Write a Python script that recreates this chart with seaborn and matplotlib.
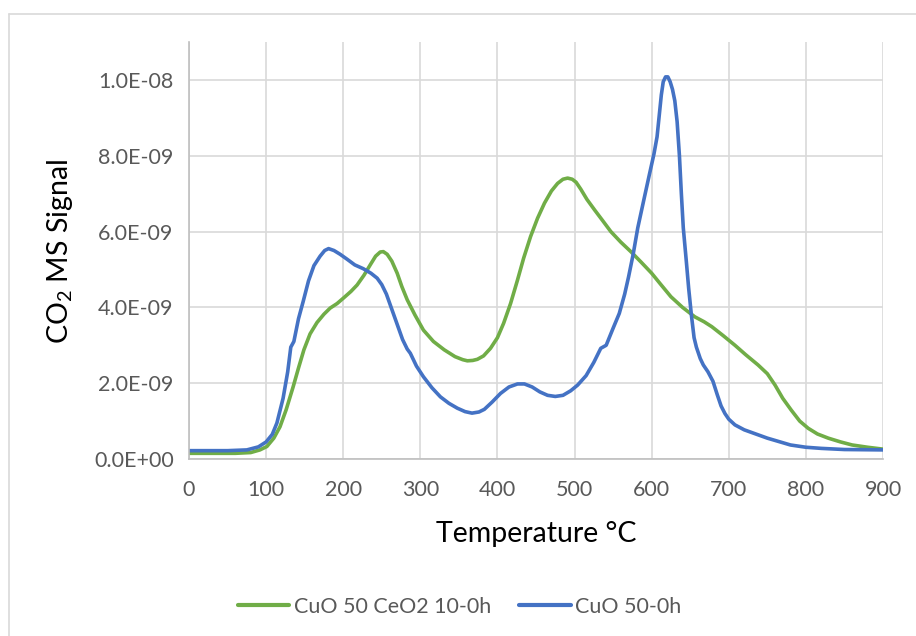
"""
CO2 TPD MS signal vs temperature for two CuO samples.
"""

import numpy as np
import pandas as pd
import matplotlib
matplotlib.use("Agg")
import matplotlib.pyplot as plt
import seaborn as sns
from matplotlib.ticker import FuncFormatter
from matplotlib.lines import Line2D


# ---------------------------------------------------------------------------
# Data (signal values in units of 1e-9)
# ---------------------------------------------------------------------------

green_name = "CuO 50 CeO2 10-0h"
green_temp = [0, 60, 80, 92, 101, 110, 118, 126, 135, 142, 149, 157, 166, 175,
              183, 192, 200, 210, 218, 227, 235, 242, 248, 252, 257, 263, 270,
              276, 283, 293, 304, 317, 331, 345, 355, 361, 368, 374, 382, 391,
              400, 408, 417, 426, 434, 443, 452, 461, 470, 478, 485, 491, 497,
              502, 508, 516, 526, 536, 547, 560, 573, 586, 600, 612, 625, 640,
              656, 668, 678, 693, 708, 722, 738, 750, 760, 770, 781, 792, 803,
              815, 829, 845, 860, 880, 900]
green_sig = [0.15, 0.15, 0.17, 0.24, 0.33, 0.55, 0.85, 1.3, 1.9, 2.4, 2.88, 3.3,
             3.6, 3.82, 3.98, 4.1, 4.24, 4.42, 4.59, 4.85, 5.12, 5.35, 5.46, 5.47,
             5.4, 5.22, 4.9, 4.55, 4.2, 3.8, 3.4, 3.1, 2.88, 2.7, 2.62, 2.59, 2.6,
             2.63, 2.72, 2.92, 3.2, 3.58, 4.1, 4.72, 5.3, 5.87, 6.35, 6.75, 7.07,
             7.27, 7.38, 7.41, 7.38, 7.3, 7.12, 6.85, 6.57, 6.3, 6.0, 5.72, 5.47,
             5.2, 4.9, 4.6, 4.28, 4.0, 3.75, 3.62, 3.49, 3.25, 3.0, 2.75, 2.48,
             2.25, 1.95, 1.6, 1.29, 1.0, 0.81, 0.66, 0.55, 0.45, 0.37, 0.31, 0.26]

blue_name = "CuO 50-0h"
blue_temp = [0, 50, 75, 90, 100, 108, 114, 122, 128, 132, 136, 142, 148, 155,
             162, 170, 176, 181, 188, 196, 205, 215, 226, 236, 244, 250, 256,
             263, 270, 277, 283, 287, 295, 304, 315, 326, 337, 348, 358, 367,
             376, 383, 393, 404, 415, 426, 435, 445, 455, 465, 475, 485, 495,
             504, 515, 525, 534, 541, 550, 558, 565, 570, 576, 582, 590, 597,
             603, 607, 610, 612.5, 615, 618, 621, 624, 627, 630, 633, 636, 638.5,
             641, 645, 648, 651.5, 655, 658, 663, 667, 673, 679.5, 685, 690, 695,
             700, 708, 720, 735, 750, 765, 780, 800, 820, 850, 900]
blue_sig = [0.22, 0.22, 0.24, 0.32, 0.45, 0.65, 0.95, 1.6, 2.3, 2.95, 3.1, 3.7,
            4.15, 4.7, 5.1, 5.35, 5.5, 5.55, 5.5, 5.4, 5.27, 5.12, 5.02, 4.9,
            4.77, 4.6, 4.35, 3.95, 3.55, 3.15, 2.9, 2.79, 2.45, 2.17, 1.88, 1.64,
            1.47, 1.34, 1.25, 1.21, 1.24, 1.31, 1.5, 1.73, 1.9, 1.98, 1.98, 1.9,
            1.77, 1.68, 1.65, 1.68, 1.8, 1.95, 2.2, 2.55, 2.92, 3.0, 3.45, 3.84,
            4.35, 4.8, 5.4, 6.1, 6.85, 7.5, 8.05, 8.5, 9.1, 9.6, 9.95, 10.08,
            10.08, 9.95, 9.75, 9.45, 8.9, 8.0, 7.0, 6.1, 5.2, 4.5, 3.8, 3.2, 2.95,
            2.65, 2.48, 2.3, 2.05, 1.7, 1.4, 1.2, 1.05, 0.9, 0.77, 0.66, 0.55,
            0.46, 0.37, 0.31, 0.28, 0.25, 0.24]

x_ticks = [0, 100, 200, 300, 400, 500, 600, 700, 800, 900]
y_ticks = [0, 2e-9, 4e-9, 6e-9, 8e-9, 1e-8]

PALETTE = {green_name: "#70AD47", blue_name: "#4472C4"}
TEXT_GREY = "#595959"


# ---------------------------------------------------------------------------
# Plot
# ---------------------------------------------------------------------------

sns.set_theme(style="white")
plt.rcParams["font.family"] = ["Lato", "DejaVu Sans"]

df = pd.concat([
    pd.DataFrame({"temp": green_temp, "signal": np.array(green_sig) * 1e-9,
                  "sample": green_name}),
    pd.DataFrame({"temp": blue_temp, "signal": np.array(blue_sig) * 1e-9,
                  "sample": blue_name}),
])

fig = plt.figure(figsize=(9.16, 6.36), dpi=100)
ax = fig.add_axes([189 / 916, 1 - 459 / 636, 694 / 916, 417 / 636])

sns.lineplot(data=df, x="temp", y="signal", hue="sample", palette=PALETTE,
             linewidth=2.6, sort=False, ax=ax)

ax.set_xlim(0, 900)
ax.set_ylim(0, 1.1e-8)
ax.set_xticks(x_ticks)
ax.set_yticks(y_ticks)
ax.yaxis.set_major_formatter(FuncFormatter(lambda v, _: f"{v:.1E}"))
ax.grid(True, color="#d9d9d9", linewidth=1.2)
ax.set_axisbelow(True)
ax.tick_params(length=0, labelsize=15.5, labelcolor=TEXT_GREY)
ax.tick_params(axis="y", pad=11)
ax.tick_params(axis="x", pad=15)

for side in ["top", "right"]:
    ax.spines[side].set_visible(False)
for side in ["left", "bottom"]:
    ax.spines[side].set_color("#bfbfbf")
    ax.spines[side].set_linewidth(1.2)

ax.set_xlabel("")
ax.set_ylabel("")
fig.text(60 / 916, 1 - 252 / 636, r"CO$_{\mathregular{2}}$ MS Signal",
         rotation=90, ha="center", va="center", fontsize=20.5, color="black")
fig.text(536 / 916, 1 - 534 / 636, "Temperature °C",
         ha="center", va="center", fontsize=20.5, color="black")

sns.move_legend(ax, "center", bbox_to_anchor=((459.5 - 189) / 694, (459 - 607) / 417),
                ncol=2, frameon=False, title=None, fontsize=15.5,
                handlelength=2.4, handletextpad=0.2, columnspacing=1.3)
for txt in ax.get_legend().get_texts():
    txt.set_color(TEXT_GREY)
for line in ax.get_legend().get_lines():
    line.set_linewidth(3)

# outer chart border (only left/top edges visible in the crop)
fig.add_artist(Line2D([9 / 916, 9 / 916], [0, 1 - 14 / 636], color="#d9d9d9", lw=1.2))
fig.add_artist(Line2D([9 / 916, 1], [1 - 14 / 636, 1 - 14 / 636], color="#d9d9d9", lw=1.2))

fig.savefig("out.png", dpi=100)
plt.close(fig)
